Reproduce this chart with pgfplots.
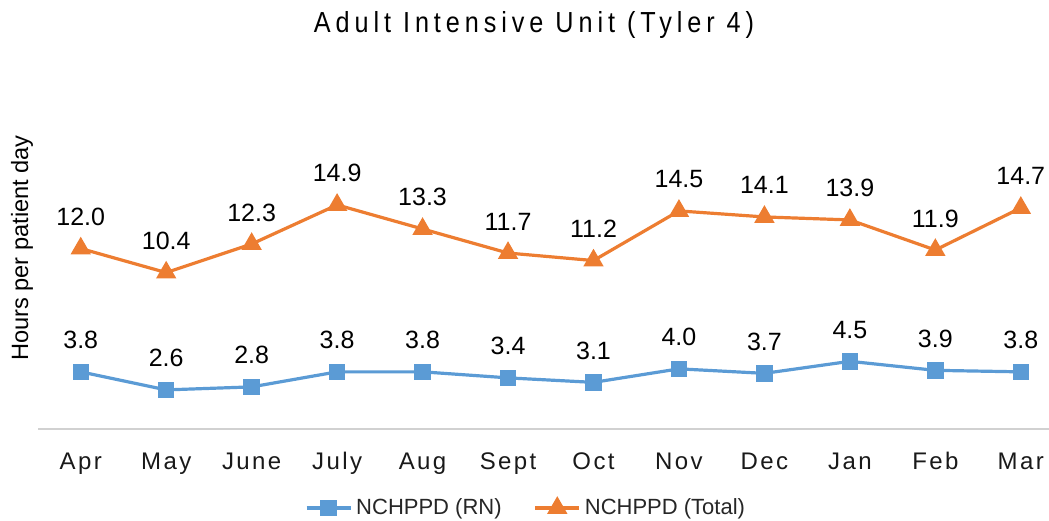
\documentclass[border=0pt]{standalone}
\usepackage{pgfplots}
\pgfplotsset{compat=1.18}
\usepackage{fontspec}
\setmainfont{Liberation Sans}
\newfontfamily\titlefont[FakeStretch=0.87,LetterSpace=17]{Liberation Sans}
\newfontfamily\tickfont[LetterSpace=10]{Liberation Sans}
\definecolor{rnblue}{HTML}{5B9BD5}
\definecolor{totorange}{HTML}{ED7D31}
\begin{document}
\begin{tikzpicture}
\useasboundingbox (0,0) rectangle (524.5pt,260pt);
\begin{axis}[
  at={(19pt,45.5pt)}, anchor=south west,
  scale only axis, width=505.5pt, height=150.4pt,
  xmin=-0.5, xmax=11.33, ymin=0, ymax=20,
  clip=false,
  axis x line=bottom, axis y line=none,
  x axis line style={-, draw=black!18, line width=0.8pt},
  major tick length=0pt,
  ytick=\empty,
  xtick={0,1,2,3,4,5,6,7,8,9,10,11},
  xticklabels={Apr,May,June,July,Aug,Sept,Oct,Nov,Dec,Jan,Feb,Mar},
  xticklabel style={font=\tickfont\fontsize{12}{14}\selectfont, text=black!90, anchor=base, yshift=-20pt},
  nodes near coords={\pgfmathprintnumber[fixed,fixed zerofill,precision=1,assume math mode=true]{\pgfplotspointmeta}},
  nodes near coords style={font=\fontsize{12.5}{14}\selectfont, text=black, inner sep=0pt, anchor=base, yshift=11.5pt},
  point meta=y,
  legend columns=2,
  legend style={at={(0.4837,-0.2626)}, anchor=center, draw=none, fill=none,
    font=\fontsize{11}{13}\selectfont, text=black!85,
    /tikz/every even column/.append style={column sep=14pt}},
  legend image code/.code={\draw[mark repeat=2,mark phase=2] plot coordinates {(0pt,0pt) (11pt,0pt) (22pt,0pt)};},
]
\addplot[color=rnblue, line width=1.6pt, mark=square*, mark size=3.3pt, mark options={solid, fill=rnblue, draw=rnblue}]
  coordinates {(0,3.8) (1,2.6) (2,2.8) (3,3.8) (4,3.8) (5,3.4) (6,3.1) (7,4.0) (8,3.7) (9,4.5) (10,3.9) (11,3.8)};
\addlegendentry{NCHPPD (RN)}
\addplot[color=totorange, line width=1.6pt, mark=triangle*, mark size=4.3pt, mark options={solid, fill=totorange, draw=totorange}]
  coordinates {(0,12.0) (1,10.4) (2,12.3) (3,14.9) (4,13.3) (5,11.7) (6,11.2) (7,14.5) (8,14.1) (9,13.9) (10,11.9) (11,14.7)};
\addlegendentry{NCHPPD (Total)}
\end{axis}
\node[anchor=base] at (267pt,243.5pt) {\titlefont\fontsize{14.5}{16}\selectfont Adult Intensive Unit (Tyler 4)};
\node[rotate=90, anchor=center] at (11pt,136pt) {\fontsize{11.8}{13}\selectfont Hours per patient day};
\end{tikzpicture}
\end{document}
